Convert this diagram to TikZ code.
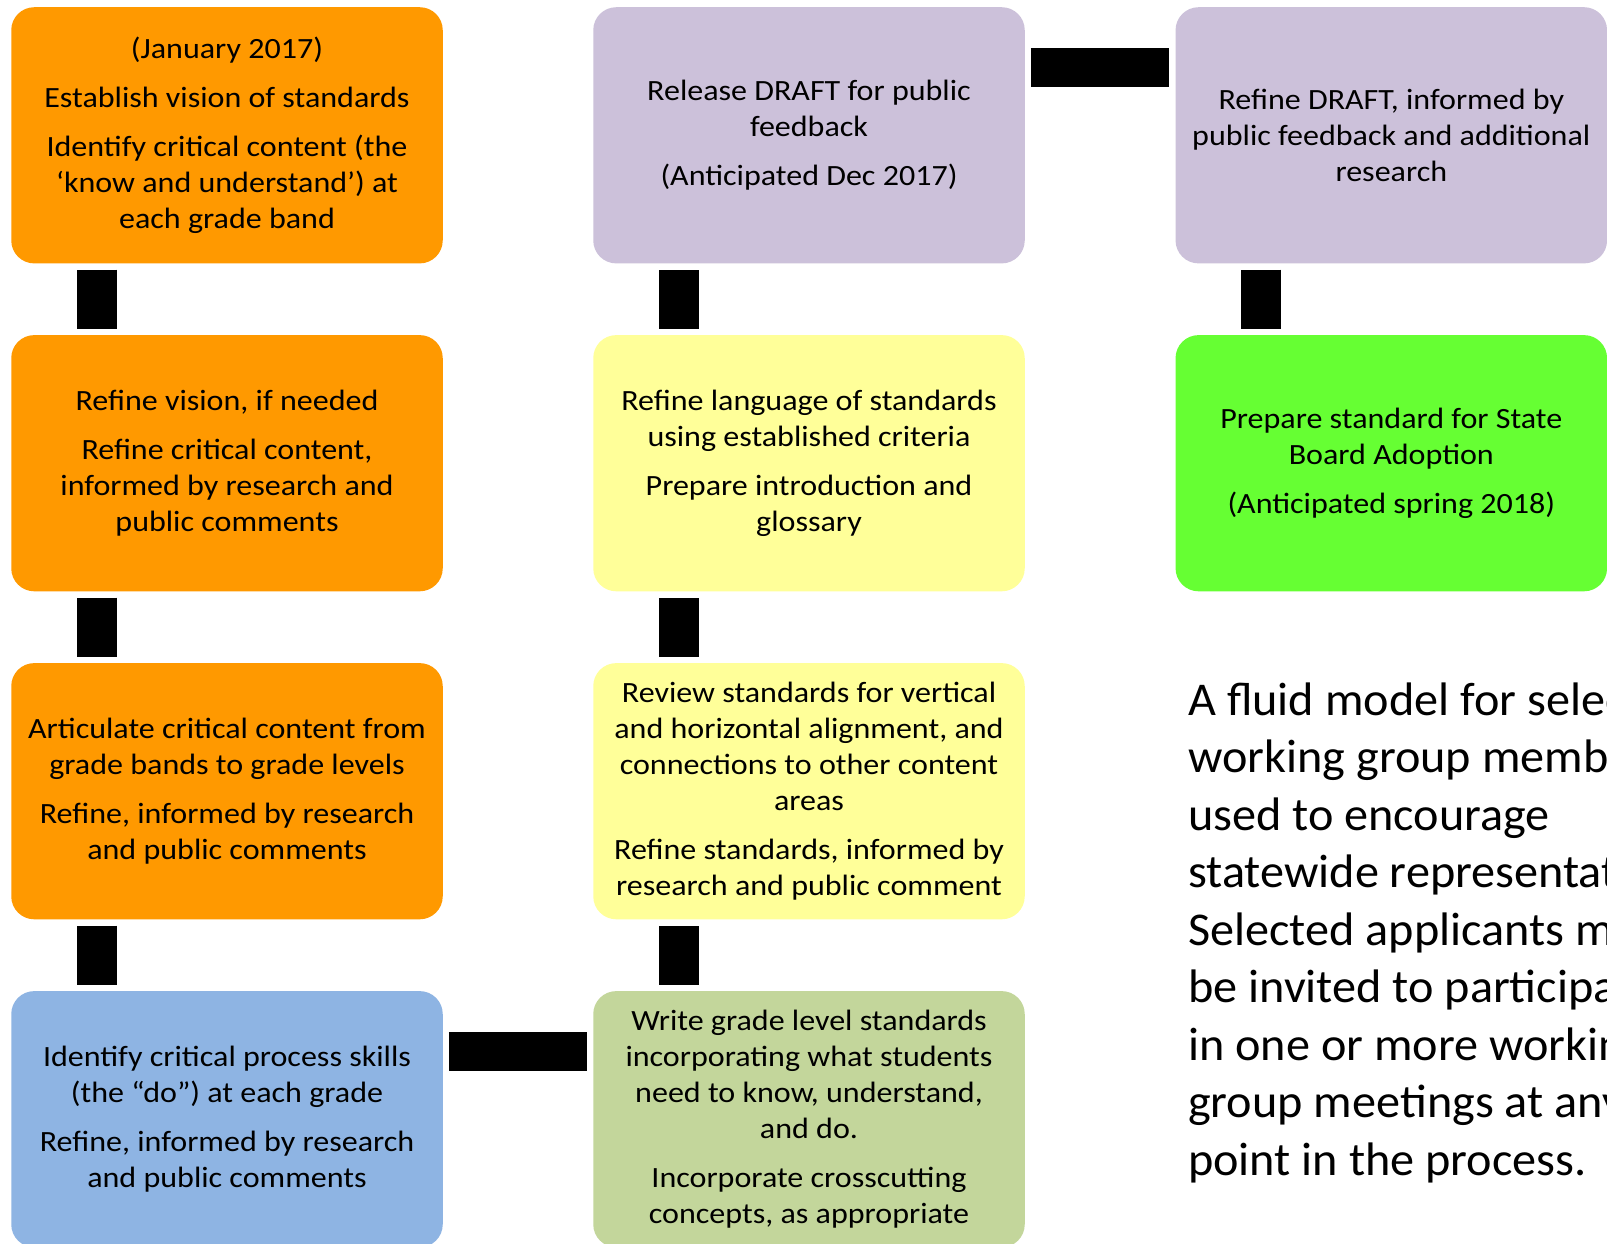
\documentclass[tikz,border=0pt]{standalone}
\usepackage{fontspec}
\setmainfont{Carlito}
\newfontfamily\boxfont[FakeStretch=1.09]{Carlito}
\newfontfamily\notefont[FakeStretch=1.026]{Carlito}
\definecolor{corange}{HTML}{FF9900}
\definecolor{cpurple}{HTML}{CCC1DA}
\definecolor{cyellow}{HTML}{FFFF99}
\definecolor{cgreen}{HTML}{66FF33}
\definecolor{cblue}{HTML}{8EB4E3}
\definecolor{colive}{HTML}{C3D69B}
\tikzset{
  stagebox/.style={rounded corners=23pt, minimum width=431.5pt, minimum height=256.2pt,
    inner sep=0pt, align=center, font=\boxfont\fontsize{29.4}{35.9}\selectfont, text=black},
  vconn/.style={line width=40pt, black},
  hconn/.style={line width=39pt, black},
  note/.style={align=left, inner sep=0pt, font=\notefont\fontsize{47}{57.5}\selectfont, text=black}
}
\newcommand{\pgap}{\\[12.8pt]}
\begin{document}
\begin{tikzpicture}[x=1pt,y=-1pt]
\useasboundingbox (0,0) rectangle (1607,1243);
\clip (0,0) rectangle (1607,1243);
\fill[white] (0,0) rectangle (1607,1243);
% column 1
\node[stagebox, fill=corange] (b11) at (227,135.3) {(January 2017)\pgap Establish vision of standards\pgap Identify critical content (the\\ ‘know and understand’) at\\ each grade band};
\node[stagebox, fill=corange] (b21) at (227,463.2) {Refine vision, if needed\pgap Refine critical content,\\ informed by research and\\ public comments};
\node[stagebox, fill=corange] (b31) at (227,791.2) {Articulate critical content from\\ grade bands to grade levels\pgap Refine, informed by research\\ and public comments};
\node[stagebox, fill=cblue] (b41) at (227,1119.2) {Identify critical process skills\\ (the “do”) at each grade\pgap Refine, informed by research\\ and public comments};
% column 2
\node[stagebox, fill=cpurple] (b12) at (809,135.3) {Release DRAFT for public\\ feedback\pgap (Anticipated Dec 2017)};
\node[stagebox, fill=cyellow] (b22) at (809,463.2) {Refine language of standards\\ using established criteria\pgap Prepare introduction and\\ glossary};
\node[stagebox, fill=cyellow] (b32) at (809,791.2) {Review standards for vertical\\ and horizontal alignment, and\\ connections to other content\\ areas\pgap Refine standards, informed by\\ research and public comment};
\node[stagebox, fill=colive] (b42) at (809,1119.2) {Write grade level standards\\ incorporating what students\\ need to know, understand,\\ and do.\pgap Incorporate crosscutting\\ concepts, as appropriate};
% column 3
\node[stagebox, fill=cpurple] (b13) at (1391.3,135.3) {Refine DRAFT, informed by\\ public feedback and additional\\ research};
\node[stagebox, fill=cgreen] (b23) at (1391.3,463.2) {Prepare standard for State\\ Board Adoption\pgap (Anticipated spring 2018)};
% note
\node[note, anchor=north west] (note) at (1188,682.5) {A fluid model for selecting\\ working group members is\\ used to encourage\\ statewide representation.\\ Selected applicants may\\ be invited to participate\\ in one or more working\\ group meetings at any\\ point in the process.};
% connectors
\draw[vconn] ([xshift=86pt,yshift=-6pt]b11.south west) -- ([xshift=86pt,yshift=6pt]b21.north west);
\draw[vconn] ([xshift=86pt,yshift=-6pt]b21.south west) -- ([xshift=86pt,yshift=6pt]b31.north west);
\draw[vconn] ([xshift=86pt,yshift=-6pt]b31.south west) -- ([xshift=86pt,yshift=6pt]b41.north west);
\draw[hconn] ([xshift=6pt,yshift=-60.5pt]b41.north east) -- ([xshift=-6pt,yshift=-60.5pt]b42.north west);
\draw[vconn] ([xshift=86pt,yshift=6pt]b42.north west) -- ([xshift=86pt,yshift=-6pt]b32.south west);
\draw[vconn] ([xshift=86pt,yshift=6pt]b32.north west) -- ([xshift=86pt,yshift=-6pt]b22.south west);
\draw[vconn] ([xshift=86pt,yshift=6pt]b22.north west) -- ([xshift=86pt,yshift=-6pt]b12.south west);
\draw[hconn] ([xshift=6pt,yshift=-60.5pt]b12.north east) -- ([xshift=-6pt,yshift=-60.5pt]b13.north west);
\draw[vconn] ([xshift=86pt,yshift=-6pt]b13.south west) -- ([xshift=86pt,yshift=6pt]b23.north west);
\end{tikzpicture}
\end{document}
